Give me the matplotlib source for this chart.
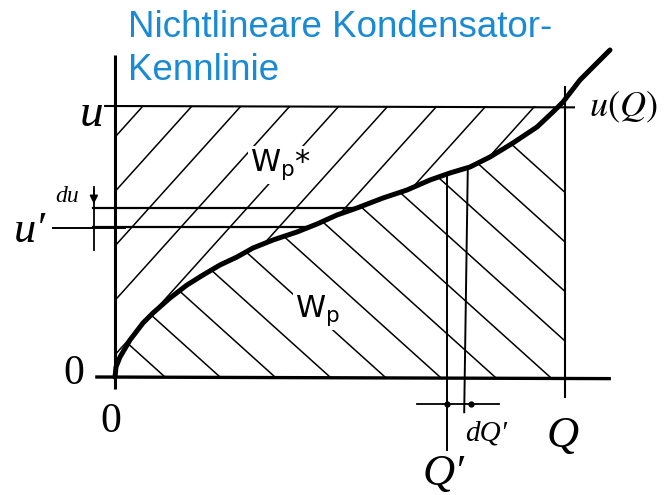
import numpy as np
import matplotlib
matplotlib.use("Agg")
import matplotlib.pyplot as plt
from matplotlib.patches import Polygon

plt.rcParams["mathtext.fontset"] = "stix"

# characteristic u(Q), normalised so that Q = 1 and u = 1 at the working point
q_curve = [0.0, 0.0022, 0.0111, 0.0333, 0.0622, 0.0844, 0.1222, 0.1600, 0.1956,
           0.2333, 0.2711, 0.3067, 0.3511, 0.4044, 0.4489, 0.4933, 0.5378, 0.5956,
           0.6489, 0.7000, 0.7444, 0.7889, 0.8333, 0.8844, 0.9378, 0.9733, 0.9956,
           1.0333, 1.0711, 1.1000]
u_curve = [0.0, 0.0369, 0.0738, 0.1365, 0.1993, 0.2362, 0.2915, 0.3395, 0.3764,
           0.4133, 0.4428, 0.4760, 0.5055, 0.5351, 0.5646, 0.5978, 0.6236, 0.6605,
           0.6900, 0.7269, 0.7528, 0.7749, 0.8118, 0.8635, 0.9225, 0.9779, 1.0148,
           1.0959, 1.1587, 1.2066]

Q_end = 1.0
U_end = 1.0
Q_prime = 0.738
dQ = 0.042
u_prime = 0.5535
du = 0.070

title_lines = ["Nichtlineare Kondensator-", "Kennlinie"]
blue = "#1a8ad4"
serif = "Liberation Serif"

fig = plt.figure(figsize=(6.67, 4.95), dpi=100)
ax = fig.add_axes([0, 0, 1, 1])
ax.set_xlim(-0.2556, 1.2267)
ax.set_ylim(-0.4354, 1.3911)
ax.axis("off")

qc = np.array(q_curve)
uc = np.array(u_curve)

# regions W_p* (above curve) and W_p (below curve)
q_top = np.interp(U_end, uc, qc)
u_right = np.interp(Q_end, qc, uc)
m_top = qc <= q_top
verts_star = [(0, 0), (0, U_end), (q_top, U_end)] + list(zip(qc[m_top][::-1], uc[m_top][::-1]))
m_bot = qc <= Q_end
verts_wp = list(zip(qc[m_bot], uc[m_bot])) + [(Q_end, u_right), (Q_end, 0)]

p_star = Polygon(verts_star, closed=True, fill=False, edgecolor="none", transform=ax.transData)
p_wp = Polygon(verts_wp, closed=True, fill=False, edgecolor="none", transform=ax.transData)
ax.add_patch(p_star)
ax.add_patch(p_wp)

# hand drawn style hatching, clipped to the regions
sx, sy = 450.0, 271.0  # pixels per unit, used only for the hatch angle
qq = np.array([-0.5, 1.5])
m1 = np.tan(np.radians(48)) * sx / sy
for x0 in np.arange(143, 640, 49):
    q0 = (x0 - 115) / sx
    ln, = ax.plot(qq, U_end + m1 * (qq - q0), color="black", lw=1.1)
    ln.set_clip_path(p_star)
m2 = np.tan(np.radians(42)) * sx / sy
for x0 in np.arange(165, 800, 55):
    q0 = (x0 - 115) / sx
    ln, = ax.plot(qq, -m2 * (qq - q0), color="black", lw=1.1)
    ln.set_clip_path(p_wp)

# axes
ax.plot([-0.044, 1.102], [0, -0.006], color="black", lw=2.4, solid_capstyle="butt")
ax.plot([0, 0], [-0.045, 1.19], color="black", lw=2.2, solid_capstyle="butt")

# u level and Q level
ax.plot([-0.022, 1.02], [U_end, U_end - 0.005], color="black", lw=1.5)
ax.plot([Q_end, Q_end], [-0.074, 1.07], color="black", lw=1.5)

# Q' and Q'+dQ'
u_qp = np.interp(Q_prime, qc, uc)
u_qp2 = np.interp(Q_prime + dQ, qc, uc)
ax.plot([Q_prime, Q_prime], [-0.268, u_qp], color="black", lw=1.4)
ax.plot([Q_prime + dQ + 0.004, Q_prime + dQ - 0.004], [u_qp2, -0.130], color="black", lw=1.4)
ax.plot([0.672, 0.854], [-0.100, -0.100], color="black", lw=1.3)
ax.plot([Q_prime, Q_prime + dQ + 0.012], [-0.100, -0.100], "o", color="black", ms=3.5)

# u' and u'+du
q_up = np.interp(u_prime, uc, qc)
q_up2 = np.interp(u_prime + du, uc, qc)
ax.plot([-0.049, q_up], [u_prime, u_prime], color="black", lw=1.6)
ax.plot([-0.049, q_up2], [u_prime + du, u_prime + du], color="black", lw=1.6)
ax.plot([-0.137, 0.022], [u_prime - 0.005, u_prime - 0.005], color="black", lw=1.4)
ax.plot([-0.047, -0.047], [0.47, 0.70], color="black", lw=1.3)
ax.annotate("", xy=(-0.047, u_prime + du + 0.005), xytext=(-0.047, 0.70),
            arrowprops=dict(arrowstyle="-|>", color="black", lw=1.2, mutation_scale=12))

# characteristic
ax.plot(qc, uc, color="black", lw=3.6, solid_capstyle="round", solid_joinstyle="round")

# labels
ax.text(-0.078, 0.926, "u", fontsize=34, style="italic", family=serif, ha="left", va="baseline")
ax.text(-0.226, 0.498, "u\u2032", fontsize=32, style="italic", family=serif, ha="left", va="baseline")
ax.text(-0.133, 0.646, "du", fontsize=17, style="italic", family=serif, ha="left", va="baseline")
ax.text(-0.115, -0.026, "0", fontsize=30, family=serif, ha="left", va="baseline")
ax.text(-0.033, -0.203, "0", fontsize=30, family=serif, ha="left", va="baseline")
ax.text(0.958, -0.258, "Q", fontsize=32, style="italic", family=serif, ha="left", va="baseline")
ax.text(0.683, -0.398, "Q\u2032", fontsize=32, style="italic", family=serif, ha="left", va="baseline")
ax.text(0.778, -0.236, "dQ\u2032", fontsize=21, style="italic", family=serif, ha="left", va="baseline")
ax.text(1.053, 0.960, "$u(Q)$", fontsize=26, ha="left", va="baseline")

bb = dict(facecolor="white", edgecolor="none", pad=1)
ax.text(0.299, 0.759, r"W$\mathregular{_p}$*", fontsize=22, ha="left", va="baseline",
        bbox=bb, family="DejaVu Sans")
ax.text(0.399, 0.221, r"W$\mathregular{_p}$", fontsize=22, ha="left", va="baseline",
        bbox=bb, family="DejaVu Sans")

# title
fig.text(128 / 667, 1 - 37 / 495, title_lines[0], fontsize=26.5, color=blue,
         family="Liberation Sans", ha="left", va="baseline")
fig.text(128 / 667, 1 - 80 / 495, title_lines[1], fontsize=26.5, color=blue,
         family="Liberation Sans", ha="left", va="baseline")

fig.savefig("out.png", dpi=100)
